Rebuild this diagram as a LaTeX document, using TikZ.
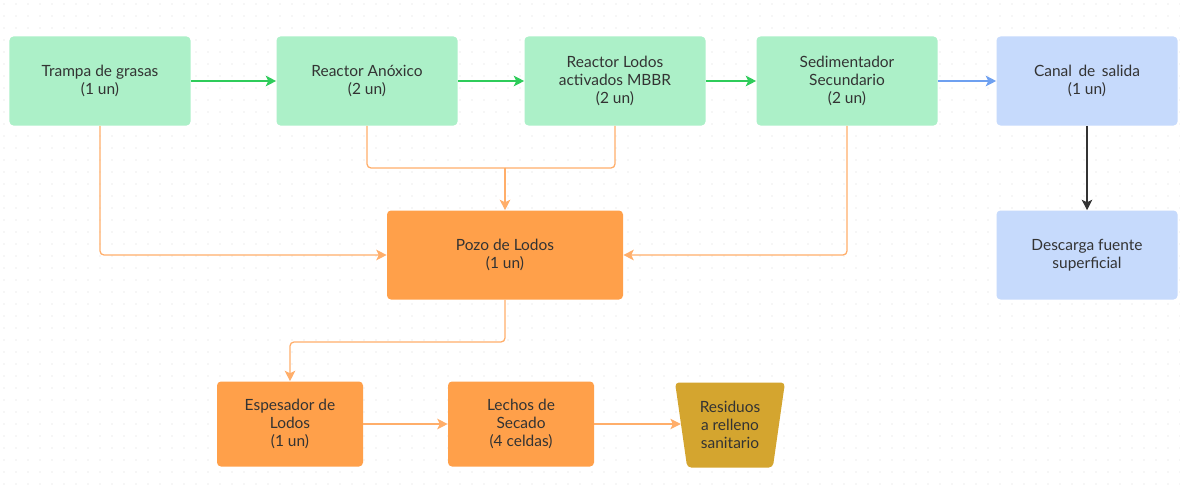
\documentclass[tikz,border=0pt]{standalone}
\usepackage{fontspec}
\setmainfont{Lato}
\usepackage{tikz}
\usetikzlibrary{shapes.geometric, arrows, arrows.meta, positioning}
\definecolor{verde}{HTML}{ACF0C8}
\definecolor{naranja}{HTML}{FFA04A}
\definecolor{azul}{HTML}{C6DAFC}
\definecolor{ocre}{HTML}{D4A52F}
\definecolor{flechaverde}{HTML}{2ECC5A}
\definecolor{flechaazul}{HTML}{6EA0F0}
\definecolor{lineanaranja}{HTML}{FFAE6A}
\definecolor{texto}{HTML}{333333}
\tikzstyle{box}       = [rounded corners=1mm, minimum width=45.25mm, minimum height=22.25mm, inner sep=1pt, align=center, text=texto, font=\fontsize{11}{13}\selectfont]
\tikzstyle{green}     = [box, fill=verde]
\tikzstyle{blue}      = [box, fill=azul]
\tikzstyle{orange}    = [box, fill=naranja]
\tikzstyle{waste}     = [trapezium, trapezium angle=80, trapezium stretches=true, shape border rotate=180, rounded corners=1mm, minimum width=27.5mm, minimum height=21.25mm, inner sep=1pt, fill=ocre, align=center, text=texto, font=\fontsize{11}{13}\selectfont]
\tikzstyle{arrow}     = [line width=1pt,->,>={Stealth[length=2.6mm, width=2.6mm, inset=0.6mm]}]
\tikzstyle{sludge}    = [line width=0.9pt,->,>={Stealth[length=2.6mm, width=2.6mm, inset=0.6mm]}, draw=lineanaranja, rounded corners=1mm]

\begin{document}
\begin{tikzpicture}[x=0.25mm, y=-0.25mm]

\useasboundingbox (0,0) rectangle (1180,487);
\fill[white] (0,0) rectangle (1180,487);
\foreach \i in {0,...,98}
  \foreach \j in {0,...,40}
    \fill[gray!30] (4+12*\i,4+12*\j) circle (0.55);

\node[green] (TG)   at (100,81) {Trampa de grasas\\(1 un)};
\node[green] (RA)   at (367,81) {Reactor Anóxico\\(2 un)};
\node[green] (RL)   at (615,81) {Reactor Lodos\\activados MBBR\\(2 un)};
\node[green] (SS)   at (847,81) {Sedimentador\\Secundario\\(2 un)};
\node[blue]  (CS)   at (1087,81) {Canal\, de\, salida\\(1 un)};
\node[blue]  (DF)   at (1087,255) {Descarga fuente\\superficial};

\node[orange, minimum width=59mm] (PL) at (505,255) {Pozo de Lodos\\(1 un)};

\node[orange, minimum width=36.5mm, minimum height=21.25mm] (EL) at (290,424) {Espesador de\\Lodos\\(1 un)};
\node[orange, minimum width=36.5mm, minimum height=21.25mm] (LS) at (521,424) {Lechos de\\Secado\\(4 celdas)};
\node[waste] (RR)   at (730,425) {Residuos\\a relleno\\sanitario};

\coordinate (M) at (505,168);
\coordinate (E) at (290,342);

\draw[arrow, flechaverde] (TG) -- (RA);
\draw[arrow, flechaverde] (RA) -- (RL);
\draw[arrow, flechaverde] (RL) -- (SS);
\draw[arrow, flechaazul] (SS) -- (CS);
\draw[arrow, texto] (CS) -- (DF);

\draw[sludge] (TG.south) |- (PL.west);
\draw[line width=0.9pt, lineanaranja, rounded corners=1mm] (RA.south) |- (M);
\draw[line width=0.9pt, lineanaranja, rounded corners=1mm] (RL.south) |- (M);
\draw[sludge] (M) -- (PL.north);
\draw[sludge] (SS.south) |- (PL.east);

\draw[sludge] (PL.south) |- (E) -- (EL.north);
\draw[sludge] (EL) -- (LS);
\draw[sludge] (LS.east) -- (LS.east -| RR.west);

\end{tikzpicture}
\end{document}
